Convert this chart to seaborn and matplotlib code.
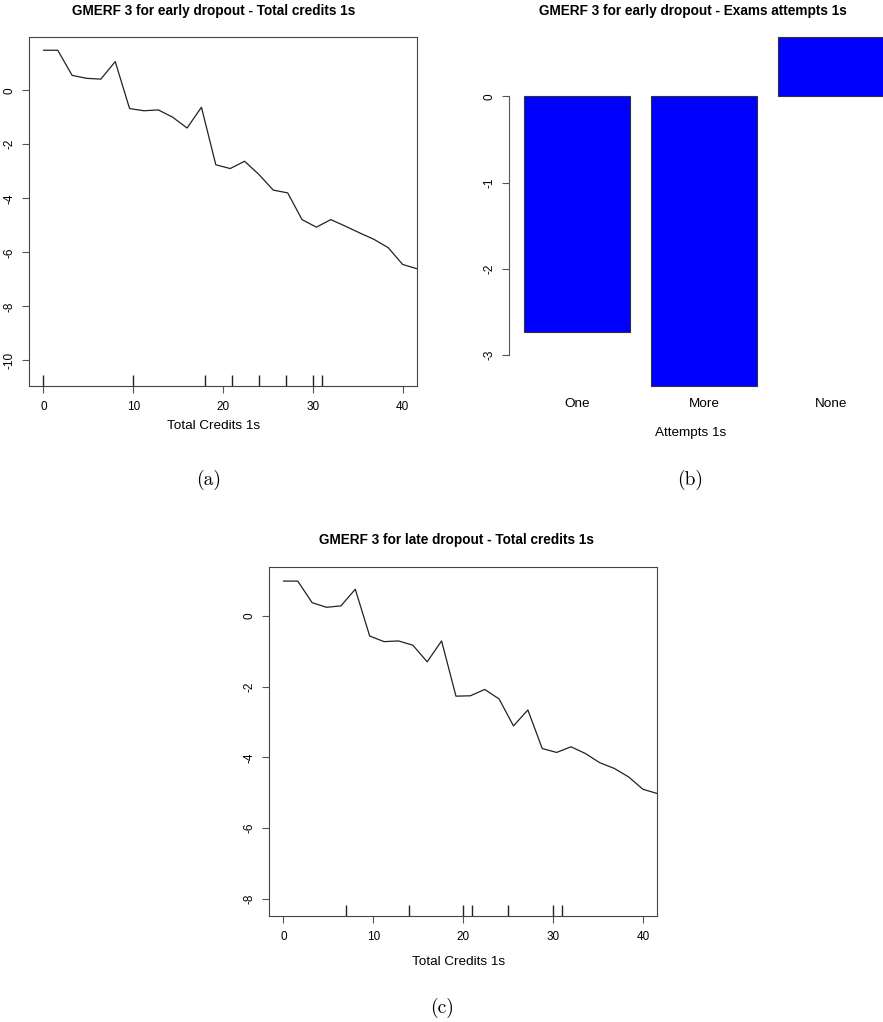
import seaborn as sns
import matplotlib.pyplot as plt

# partial dependence of total credits (grid)
credits = [0.0, 1.6, 3.2, 4.8, 6.4, 8.0, 9.6, 11.2, 12.8, 14.4, 16.0, 17.6, 19.2, 20.8,
           22.4, 24.0, 25.6, 27.2, 28.8, 30.4, 32.0, 33.6, 35.2, 36.8, 38.4, 40.0, 41.6]
early_credits_effect = [1.48, 1.48, 0.55, 0.44, 0.41, 1.06, -0.68, -0.76, -0.73, -1.00,
                        -1.40, -0.63, -2.76, -2.90, -2.63, -3.12, -3.70, -3.80, -4.79,
                        -5.07, -4.79, -5.03, -5.28, -5.52, -5.83, -6.45, -6.61]
late_credits_effect = [0.98, 0.98, 0.37, 0.24, 0.28, 0.75, -0.57, -0.73, -0.71, -0.83,
                       -1.30, -0.71, -2.27, -2.26, -2.08, -2.35, -3.11, -2.66, -3.75,
                       -3.86, -3.70, -3.89, -4.15, -4.31, -4.55, -4.90, -5.02]
rug_early = [0, 10, 18, 21, 24, 27, 30, 31]
rug_late = [7, 14, 20, 21, 25, 30, 31]

attempts = ['One', 'More', 'None']
early_attempts_effect = [-2.73, -3.36, 0.684]

credit_ticks = [0, 10, 20, 30, 40]
early_yticks = [0, -2, -4, -6, -8, -10]
late_yticks = [0, -2, -4, -6, -8]
attempt_yticks = [0, -1, -2, -3]

sns.set_style('ticks')
plt.rcParams['font.family'] = ['Liberation Sans', 'DejaVu Sans']
plt.rcParams['axes.unicode_minus'] = False
plt.rcParams['text.color'] = 'black'
plt.rcParams['axes.labelcolor'] = 'black'

W, H = 883, 1022
fig = plt.figure(figsize=(W / 100, H / 100), dpi=100)


def box(l, t, r, b):
    return [l / W, 1 - b / H, (r - l) / W, (b - t) / H]


def style_yaxis(ax, ticks):
    ax.set_yticks(ticks)
    ax.set_yticklabels([str(t) for t in ticks], rotation=90, va='center', ha='center')
    ax.tick_params(axis='y', length=5, width=0.8, color='#555555', labelcolor='black',
                   labelsize=8.5, pad=9)


def credits_panel(ax, y, rug, ylim, yticks, xlab_x, xlab_y):
    sns.lineplot(x=credits, y=y, ax=ax, color='#222222', linewidth=0.9)
    sns.rugplot(x=rug, ax=ax, height=0.032, color='#222222', linewidth=1.0)
    ax.set_xlim(-1.6, 41.6)
    ax.set_ylim(*ylim)
    ax.set_xticks(credit_ticks)
    ax.set_xticklabels([str(t) for t in credit_ticks], va='center')
    ax.tick_params(axis='x', length=5, width=0.8, color='#555555', labelcolor='black',
                   labelsize=8.5, pad=10)
    style_yaxis(ax, yticks)
    for s in ax.spines.values():
        s.set_color('#444444')
        s.set_linewidth(0.8)
    ax.set_ylabel('')
    ax.set_xlabel('Total Credits 1s', fontsize=9.7, va='center')
    ax.xaxis.set_label_coords(xlab_x, xlab_y)


# (a) early dropout - total credits
ax_a = fig.add_axes(box(29, 37, 417, 386))
credits_panel(ax_a, early_credits_effect, rug_early, (-10.95, 1.97), early_yticks, 0.476, -0.115)

# (b) early dropout - exam attempts
ax_b = fig.add_axes(box(509.3, 23.4, 898.5, 399.7))
sns.barplot(x=attempts, y=early_attempts_effect, ax=ax_b, color='#0000FF', saturation=1,
            width=0.833, edgecolor='#333333', linewidth=0.8)
ax_b.set_xlim(-0.53, 2.53)
ax_b.set_ylim(-3.52, 0.846)
for side in ['top', 'right', 'bottom']:
    ax_b.spines[side].set_visible(False)
ax_b.spines['left'].set_bounds(-3, 0)
ax_b.spines['left'].set_color('#555555')
ax_b.spines['left'].set_linewidth(0.8)
style_yaxis(ax_b, attempt_yticks)
ax_b.tick_params(axis='x', length=0, labelcolor='black', labelsize=9.7, pad=3)
for t in ax_b.get_xticklabels():
    t.set_va('center')
ax_b.set_ylabel('')
ax_b.set_xlabel('Attempts 1s', fontsize=9.7, va='center')
ax_b.xaxis.set_label_coords(0.465, -0.0885)

# (c) late dropout - total credits
ax_c = fig.add_axes(box(269, 567.3, 657.3, 916))
credits_panel(ax_c, late_credits_effect, rug_late, (-8.48, 1.37), late_yticks, 0.487, -0.131)

# titles and sub-captions
title_kw = dict(fontsize=9.8, fontweight='bold', ha='center', va='center')
fig.text(213.5 / W, 1 - 10.7 / H, 'GMERF 3 for early dropout - Total credits 1s', **title_kw)
fig.text(693.3 / W, 1 - 10.7 / H, 'GMERF 3 for early dropout - Exams attempts 1s', **title_kw)
fig.text(456 / W, 1 - 540 / H, 'GMERF 3 for late dropout - Total credits 1s', **title_kw)

cap_kw = dict(fontsize=14, family='cmr10', ha='center', va='center')
fig.text(209 / W, 1 - 480 / H, '(a)', **cap_kw)
fig.text(690 / W, 1 - 480 / H, '(b)', **cap_kw)
fig.text(442 / W, 1 - 1008 / H, '(c)', **cap_kw)

fig.savefig('out.png', dpi=100)
